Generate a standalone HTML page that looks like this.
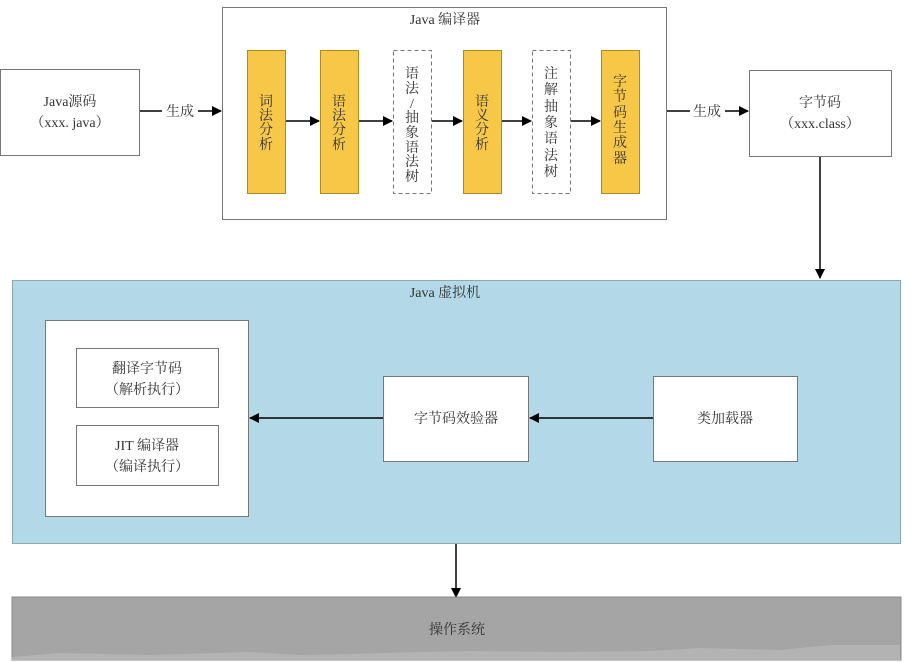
<!DOCTYPE html>
<html><head><meta charset="utf-8"><style>
html,body{margin:0;padding:0;background:#fff;width:915px;height:662px;overflow:hidden}
text{font-family:"Liberation Serif","Noto Serif CJK SC",serif;fill:#333;font-size:14px}
</style></head><body>
<svg width="915" height="662" xmlns="http://www.w3.org/2000/svg">
<defs><marker id="a" markerWidth="10" markerHeight="10" refX="9" refY="5" orient="auto" markerUnits="userSpaceOnUse"><path d="M0,0 L10,5 L0,10 z" fill="#000"/></marker></defs>
<rect x="0.5" y="69.5" width="139" height="86" fill="#fff" stroke="#777"/>
<text x="70" y="106" text-anchor="middle">Java源码</text>
<text x="70" y="127" text-anchor="middle">（xxx. java）</text>
<line x1="140" y1="111" x2="162" y2="111" stroke="#000" stroke-width="1.5"/>
<text x="180" y="116" text-anchor="middle">生成</text>
<line x1="198" y1="111" x2="221" y2="111" stroke="#000" stroke-width="1.5" marker-end="url(#a)"/>
<rect x="222.5" y="7.5" width="444" height="212" fill="#fff" stroke="#777"/>
<text x="445" y="24" text-anchor="middle">Java 编译器</text>
<rect x="247.5" y="50.5" width="38" height="143" fill="#f7c748" stroke="#b08a20"/>
<rect x="320.5" y="50.5" width="38" height="143" fill="#f7c748" stroke="#b08a20"/>
<rect x="393.5" y="50.5" width="38" height="143" fill="#fff" stroke="#777" stroke-dasharray="4,3"/>
<rect x="463.5" y="50.5" width="38" height="143" fill="#f7c748" stroke="#b08a20"/>
<rect x="532.5" y="50.5" width="38" height="143" fill="#fff" stroke="#777" stroke-dasharray="4,3"/>
<rect x="601.5" y="50.5" width="38" height="143" fill="#f7c748" stroke="#b08a20"/>
<g text-anchor="middle">
<text x="266" y="106">词</text><text x="266" y="120">法</text><text x="266" y="134">分</text><text x="266" y="149">析</text>
<text x="339" y="106">语</text><text x="339" y="120">法</text><text x="339" y="134">分</text><text x="339" y="149">析</text>
<text x="412" y="78">语</text><text x="412" y="93">法</text><text x="412" y="108">/</text><text x="412" y="122">抽</text><text x="412" y="137">象</text><text x="412" y="152">语</text><text x="412" y="166">法</text><text x="412" y="181">树</text>
<text x="482" y="106">语</text><text x="482" y="120">义</text><text x="482" y="134">分</text><text x="482" y="149">析</text>
<text x="551" y="78">注</text><text x="551" y="94">解</text><text x="551" y="111">抽</text><text x="551" y="127">象</text><text x="551" y="143">语</text><text x="551" y="160">法</text><text x="551" y="176">树</text>
<text x="620" y="86">字</text><text x="620" y="101">节</text><text x="620" y="117">码</text><text x="620" y="132">生</text><text x="620" y="147">成</text><text x="620" y="163">器</text>
</g>
<g stroke="#000" stroke-width="1.5">
<line x1="286" y1="121" x2="319" y2="121" marker-end="url(#a)"/>
<line x1="359" y1="121" x2="392" y2="121" marker-end="url(#a)"/>
<line x1="432" y1="121" x2="462" y2="121" marker-end="url(#a)"/>
<line x1="502" y1="121" x2="531" y2="121" marker-end="url(#a)"/>
<line x1="571" y1="121" x2="600" y2="121" marker-end="url(#a)"/>
</g>
<line x1="667" y1="111" x2="690" y2="111" stroke="#000" stroke-width="1.5"/>
<text x="707" y="116" text-anchor="middle">生成</text>
<line x1="725" y1="111" x2="748" y2="111" stroke="#000" stroke-width="1.5" marker-end="url(#a)"/>
<rect x="749.5" y="70.5" width="142" height="86" fill="#fff" stroke="#777"/>
<text x="820" y="107" text-anchor="middle">字节码</text>
<text x="820" y="128" text-anchor="middle">（xxx.class）</text>
<line x1="820" y1="157" x2="820" y2="278" stroke="#000" stroke-width="1.5" marker-end="url(#a)"/>
<rect x="12.5" y="280.5" width="888" height="263" fill="#b3d9e8" stroke="#8aa"/>
<text x="445" y="297" text-anchor="middle">Java 虚拟机</text>
<rect x="45.5" y="320.5" width="203" height="196" fill="#fff" stroke="#777"/>
<rect x="76.5" y="348.5" width="142" height="59" fill="#fff" stroke="#777"/>
<text x="147" y="373" text-anchor="middle">翻译字节码</text>
<text x="147" y="394" text-anchor="middle">（解析执行）</text>
<rect x="76.5" y="425.5" width="142" height="60" fill="#fff" stroke="#777"/>
<text x="147" y="450" text-anchor="middle">JIT 编译器</text>
<text x="147" y="471" text-anchor="middle">（编译执行）</text>
<rect x="383.5" y="376.5" width="145" height="85" fill="#fff" stroke="#777"/>
<text x="456" y="423" text-anchor="middle">字节码效验器</text>
<rect x="653.5" y="376.5" width="144" height="85" fill="#fff" stroke="#777"/>
<text x="725" y="423" text-anchor="middle">类加载器</text>
<line x1="653" y1="418" x2="530" y2="418" stroke="#000" stroke-width="1.5" marker-end="url(#a)"/>
<line x1="383" y1="418" x2="250" y2="418" stroke="#000" stroke-width="1.5" marker-end="url(#a)"/>
<line x1="456" y1="544" x2="456" y2="597" stroke="#000" stroke-width="1.5" marker-end="url(#a)"/>
<rect x="12" y="597" width="889" height="63" fill="#a5a5a5" stroke="#888"/>
<path d="M12,657 L60,653 L150,655 L250,652 L300,655 L350,654 L420,652 L470,651 L560,652 L650,651 L700,648 L780,650 L830,645 L900,645 L900,660 L12,660 z" fill="#b3b3b3"/>
<text x="457" y="634" text-anchor="middle" fill="#333">操作系统</text>
</svg>
</body></html>
